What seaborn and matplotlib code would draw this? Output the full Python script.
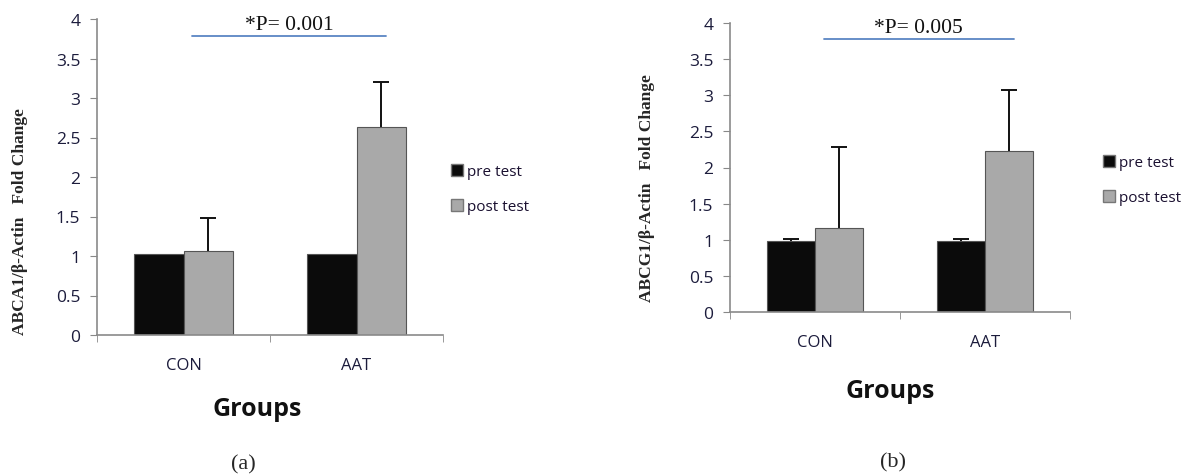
import numpy as np
import pandas as pd
import matplotlib
matplotlib.use("Agg")
import matplotlib.pyplot as plt
import seaborn as sns
from matplotlib.lines import Line2D

# ---- data ----
groups = ["CON", "AAT"]
tests = ["pre test", "post test"]

abca1_pre = [1.02, 1.02]
abca1_post = [1.06, 2.63]
abca1_pre_err = [0.0, 0.0]
abca1_post_err = [0.42, 0.57]

abcg1_pre = [0.98, 0.98]
abcg1_post = [1.16, 2.23]
abcg1_pre_err = [0.03, 0.03]
abcg1_post_err = [1.12, 0.84]

p_texts = ["*P= 0.001", "*P= 0.005"]
ylabels = ["ABCA1/\u03b2-Actin   Fold Change", "ABCG1/\u03b2-Actin   Fold Change"]
panel_tags = ["(a)", "(b)"]

sns.set_style("white")
plt.rcParams['font.family'] = ['Open Sans', 'DejaVu Sans']

colors = {"pre test": "#0b0b0b", "post test": "#a9a9a9"}
tick_col = "#1c1c3c"

fig = plt.figure(figsize=(11.92, 4.77), dpi=100)
W, H = 1192, 477

def fx(px):
    return px / W

def fy(py):
    return 1 - py / H

# axes boxes in pixel terms: left, top, right, bottom
boxes = [(97, 20, 443, 336), (730, 24, 1070, 313)]

panels = [
    (abca1_pre, abca1_post, abca1_pre_err, abca1_post_err),
    (abcg1_pre, abcg1_post, abcg1_pre_err, abcg1_post_err),
]

for i, (pre, post, pre_err, post_err) in enumerate(panels):
    l, t, r, b = boxes[i]
    ax = fig.add_axes([fx(l), fy(b), fx(r) - fx(l), fy(t) - fy(b)])
    df = pd.DataFrame({
        "group": groups * 2,
        "test": [tests[0]] * 2 + [tests[1]] * 2,
        "value": pre + post,
    })
    sns.barplot(data=df, x="group", y="value", hue="test", order=groups,
                hue_order=tests, palette=colors, width=0.57, errorbar=None,
                edgecolor="#555555", linewidth=0.8, ax=ax, legend=False)

    errs = [pre_err, post_err]
    bar_conts = list(ax.containers)
    for k, cont in enumerate(bar_conts):
        for j, patch in enumerate(cont.patches):
            e = errs[k][j]
            if e <= 0:
                continue
            xc = patch.get_x() + patch.get_width() / 2
            top = patch.get_height()
            eb = ax.errorbar(xc, top, yerr=[[0], [e]], fmt="none",
                             ecolor="#111111", elinewidth=1.4, capsize=6,
                             capthick=1.4, zorder=0.5)
            eb[1][0].set_visible(False)  # no cap at the bar top

    ax.set_xlim(-0.5, 1.5)
    ax.set_ylim(0, 4)
    ax.set_yticks(np.arange(0, 4.01, 0.5))
    ax.set_yticklabels([f"{v:g}" for v in np.arange(0, 4.01, 0.5)])
    ax.set_xlabel("")
    ax.set_ylabel("")
    ax.set_xticks([0, 1])
    ax.set_xticks([-0.5, 0.5, 1.5], minor=True)
    ax.tick_params(axis="x", which="major", length=0, pad=16, labelsize=12,
                   labelcolor=tick_col)
    ax.tick_params(axis="x", which="minor", length=5, color="#888888",
                   direction="out", bottom=True)
    ax.tick_params(axis="y", length=5, color="#888888", direction="out",
                   left=True, labelsize=12.5, labelcolor=tick_col, pad=7)
    for s in ["top", "right"]:
        ax.spines[s].set_visible(False)
    for s in ["left", "bottom"]:
        ax.spines[s].set_color("#8a8a8a")
        ax.spines[s].set_linewidth(1.2)

    # significance line and text
    ax.plot([0.05, 1.17], [3.78, 3.78], color="#5b86c4", lw=1.3, clip_on=False)
    ax.text(0.61, 3.81, p_texts[i], ha="center", va="bottom", fontsize=15.5,
            family="Liberation Serif", color="#111111")

    # legend
    handles = [Line2D([0], [0], marker="s", linestyle="none", markersize=8.5,
                      markerfacecolor=colors[tt], markeredgecolor="#777777")
               for tt in tests]
    lx = [436, 1088][i]
    ly = [190, 181][i]
    fig.legend(handles, tests, loc="center left",
               bbox_to_anchor=(fx(lx), fy(ly)), frameon=False, fontsize=11,
               labelspacing=1.3, handletextpad=0.15, handlelength=1.0,
               labelcolor="#1a1030")

# y labels, axis titles and panel tags
fig.text(fx(20), fy(222), ylabels[0], rotation=90, ha="center", va="center",
         family="Liberation Serif", weight="bold", fontsize=12.5)
fig.text(fx(647), fy(188), ylabels[1], rotation=90, ha="center", va="center",
         family="Liberation Serif", weight="bold", fontsize=12.5)
fig.text(fx(257), fy(410), "Groups", ha="center", va="center", fontsize=18,
         weight="bold", color="#111111")
fig.text(fx(890), fy(392), "Groups", ha="center", va="center", fontsize=18,
         weight="bold", color="#111111")
fig.text(fx(243), fy(465), panel_tags[0], ha="center", va="center",
         fontsize=16, family="Liberation Serif")
fig.text(fx(893), fy(463), panel_tags[1], ha="center", va="center",
         fontsize=16, family="Liberation Serif")

fig.savefig("out.png", dpi=100)
